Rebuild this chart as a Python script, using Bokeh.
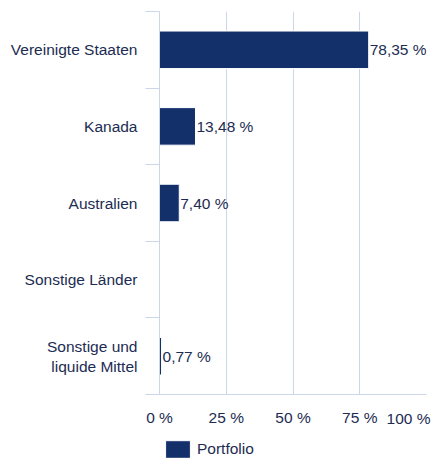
from bokeh.plotting import figure
from bokeh.models import (ColumnDataSource, Range1d, FixedTicker, LabelSet, Legend, LegendItem, LinearAxis)
from bokeh.layouts import column
from bokeh.core.properties import value
from bokeh.embed import file_html
from bokeh.resources import INLINE
import math

categories = ["Vereinigte Staaten", "Kanada", "Australien", "Sonstige Länder", "Sonstige und\nliquide Mittel"]
values = [78.35, 13.48, 7.40, float("nan"), 0.77]
x_ticks = [0, 25, 50, 75, 100]
x_tick_labels = ["0 %", "25 %", "50 %", "75 %", "100 %"]
series_name = "Portfolio"

BAR = "#13306b"
TEXT = "#1c2c52"
GRID = "#cbd6e8"
FONT = "Liberation Sans"
FS = "15.5px"

W, H = 431, 458
LEFT, RIGHT, TOP = 159, 5, 11
MAIN_H = 430
FRAME_W = W - LEFT - RIGHT
FOOT_H = H - MAIN_H

n = len(categories)
ys = [n - i - 0.5 for i in range(n)]
bounds = list(range(n + 1))

def fmt(v):
    return ("%.2f" % v).replace(".", ",") + " %"

keep = [i for i, v in enumerate(values) if not math.isnan(v)]
src = ColumnDataSource(dict(
    y=[ys[i] for i in keep],
    v=[values[i] for i in keep],
    t=[fmt(values[i]) for i in keep],
))

p = figure(width=W, height=MAIN_H, output_backend="svg", toolbar_location=None,
           x_range=Range1d(0, 100), y_range=Range1d(0, n),
           min_border_left=LEFT, min_border_right=RIGHT, min_border_top=TOP,
           min_border_bottom=MAIN_H - 394)
p.outline_line_color = None

r = p.hbar(y="y", right="v", left=0, height=0.49, source=src, fill_color=BAR,
           line_color="white", line_width=1)

# value labels
ls = LabelSet(x="v", y="y", text="t", source=src, x_offset=1, text_baseline="middle",
              text_font=value(FONT), text_font_size=value(FS), text_color=TEXT)
p.add_layout(ls)

# grid
p.xgrid.ticker = FixedTicker(ticks=x_ticks)
p.xgrid.grid_line_color = GRID
p.ygrid.grid_line_color = None

def style_x(ax, standoff):
    ax.major_tick_line_color = None
    ax.major_tick_out = 0
    ax.major_tick_in = 0
    ax.minor_tick_line_color = None
    ax.minor_tick_out = 0
    ax.minor_tick_in = 0
    ax.major_label_standoff = standoff
    ax.major_label_text_font = FONT
    ax.major_label_text_font_size = FS
    ax.major_label_text_color = TEXT

# primary x axis: every label except the last one
xa = p.xaxis[0]
xa.ticker = FixedTicker(ticks=x_ticks[:-1])
xa.major_label_overrides = {t: l for t, l in zip(x_ticks[:-1], x_tick_labels[:-1])}
style_x(xa, 14)
xa.axis_line_color = GRID

# last label, justified to stay inside the window (same row as the others)
shift = 18 / FRAME_W * 100
p.extra_x_ranges = {"lbl": Range1d(shift, 100 + shift)}
xb = LinearAxis(x_range_name="lbl", ticker=FixedTicker(ticks=[x_ticks[-1]]),
                major_label_overrides={x_ticks[-1]: x_tick_labels[-1]})
style_x(xb, -19)
xb.axis_line_color = None
p.add_layout(xb, "below")

# y axis
p.yaxis.ticker = FixedTicker(ticks=ys, minor_ticks=bounds)
p.yaxis.major_label_overrides = {y: c for y, c in zip(ys, categories)}
p.yaxis.major_tick_line_color = None
p.yaxis.major_tick_out = 0
p.yaxis.major_tick_in = 0
p.yaxis.minor_tick_line_color = GRID
p.yaxis.minor_tick_out = 14
p.yaxis.minor_tick_in = 0
p.yaxis.axis_line_color = GRID
p.yaxis.major_label_standoff = 8
p.yaxis.major_label_text_font = FONT
p.yaxis.major_label_text_font_size = FS
p.yaxis.major_label_text_color = TEXT

# footer with the legend
f = figure(width=W, height=FOOT_H, output_backend="svg", toolbar_location=None,
           x_range=Range1d(0, 100), y_range=Range1d(0, 1),
           x_axis_location=None, y_axis_location=None, min_border=0)
f.outline_line_color = None
f.grid.visible = False

proxy = f.hbar(y=[float("nan")], right=[float("nan")], left=0, height=1,
               fill_color=BAR, line_color="white", line_width=1)
legend = Legend(items=[LegendItem(label=series_name, renderers=[proxy])],
                location=(3, -2), orientation="horizontal",
                glyph_width=31, glyph_height=22, label_height=18, label_standoff=4,
                padding=0, margin=0, border_line_color=None, background_fill_alpha=0,
                label_text_font=FONT, label_text_font_size=FS, label_text_color=TEXT)
f.add_layout(legend)

open("out.html", "w").write(file_html(column(p, f, spacing=0), INLINE))
